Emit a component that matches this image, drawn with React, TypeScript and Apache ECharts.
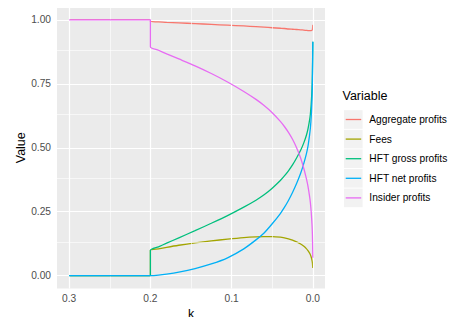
import React, { useEffect, useRef } from "react";
import * as echarts from "echarts";

const kGrid = [0.3, 0.2, 0.2, 0.19, 0.18, 0.165, 0.145, 0.125, 0.105, 0.085, 0.07, 0.06, 0.05, 0.04, 0.035, 0.03, 0.025, 0.02, 0.015, 0.011, 0.008, 0.006, 0.004, 0.003, 0.002, 0.001, 0.0005, 0.0];
const aggregateProfits = [1, 1, 0.993, 0.992, 0.99, 0.988, 0.985, 0.982, 0.979, 0.976, 0.973, 0.971, 0.969, 0.967, 0.966, 0.964, 0.963, 0.962, 0.961, 0.96, 0.959, 0.958, 0.958, 0.958, 0.958, 0.959, 0.962, 0.98];
const fees = [0, 0, 0.099, 0.105, 0.111, 0.119, 0.128, 0.136, 0.143, 0.149, 0.152, 0.153, 0.153, 0.151, 0.148, 0.144, 0.139, 0.132, 0.124, 0.115, 0.106, 0.098, 0.088, 0.082, 0.073, 0.06, 0.05, 0.03];
const hftGross = [0, 0, 0.099, 0.113, 0.127, 0.148, 0.176, 0.205, 0.235, 0.268, 0.295, 0.316, 0.342, 0.372, 0.39, 0.41, 0.433, 0.46, 0.49, 0.52, 0.548, 0.573, 0.608, 0.632, 0.67, 0.73, 0.79, 0.914];
const hftNet = [0, 0, 0, 0.002, 0.006, 0.014, 0.028, 0.046, 0.07, 0.105, 0.14, 0.167, 0.203, 0.243, 0.267, 0.294, 0.325, 0.36, 0.4, 0.44, 0.475, 0.505, 0.55, 0.577, 0.62, 0.69, 0.76, 0.914];
const insiderProfits = [1, 1, 0.895, 0.881, 0.867, 0.847, 0.82, 0.79, 0.757, 0.72, 0.689, 0.665, 0.637, 0.603, 0.583, 0.56, 0.533, 0.5, 0.46, 0.418, 0.38, 0.35, 0.31, 0.285, 0.25, 0.2, 0.16, 0.07];

const seriesNames = ["Aggregate profits", "Fees", "HFT gross profits", "HFT net profits", "Insider profits"];
const seriesValues = [aggregateProfits, fees, hftGross, hftNet, insiderProfits];
const seriesColors = ["#F8766D", "#A3A500", "#00BF7D", "#00B0F6", "#E76BF3"];

const xTicks = [0.3, 0.2, 0.1, 0.0];
const xMinor = [0.25, 0.15, 0.05];
const yTicks = [0, 0.25, 0.5, 0.75, 1.0];
const yMinor = [0.125, 0.375, 0.625, 0.875];

const FONT = "Liberation Sans, Arial, Helvetica, sans-serif";

export default function App() {
  const ref = useRef<HTMLDivElement>(null);
  useEffect(() => {
    if (!ref.current) return;
    const chart = echarts.init(ref.current, null, { renderer: "svg" });

    const gridLines: any[] = [];
    xTicks.forEach((v) => gridLines.push({ xAxis: v, lineStyle: { color: "#FFFFFF", width: 1.2, type: "solid" } }));
    xMinor.forEach((v) => gridLines.push({ xAxis: v, lineStyle: { color: "#FFFFFF", width: 0.6, type: "solid" } }));
    yTicks.forEach((v) => gridLines.push({ yAxis: v, lineStyle: { color: "#FFFFFF", width: 1.2, type: "solid" } }));
    yMinor.forEach((v) => gridLines.push({ yAxis: v, lineStyle: { color: "#FFFFFF", width: 0.6, type: "solid" } }));

    const legendGraphics: any[] = [
      {
        type: "text",
        left: 342.5,
        top: 89,
        style: { text: "Variable", font: `12.5px ${FONT}`, fill: "#000000" },
      },
    ];
    seriesNames.forEach((name, i) => {
      const cy = 119.5 + i * 19.6;
      legendGraphics.push({
        type: "rect",
        shape: { x: 344, y: cy - 9.3, width: 18.6, height: 18.6 },
        style: { fill: "#F2F2F2" },
      });
      legendGraphics.push({
        type: "line",
        shape: { x1: 345.7, y1: cy, x2: 361.2, y2: cy },
        style: { stroke: seriesColors[i], lineWidth: 1.3 },
      });
      legendGraphics.push({
        type: "text",
        x: 369.3,
        y: cy,
        style: { text: name, font: `10.2px ${FONT}`, fill: "#000000", textVerticalAlign: "middle", verticalAlign: "middle" },
      });
    });

    const series: any[] = [
      {
        type: "line",
        name: "grid",
        data: [],
        z: 1,
        silent: true,
        markLine: {
          silent: true,
          symbol: ["none", "none"],
          label: { show: false },
          animation: false,
          data: gridLines,
        },
      },
    ];
    seriesNames.forEach((name, i) => {
      series.push({
        type: "line",
        name,
        data: kGrid.map((k, j) => [k, seriesValues[i][j]]),
        showSymbol: false,
        symbol: "none",
        smooth: 0.25,
        lineStyle: { color: seriesColors[i], width: 1.3 },
        itemStyle: { color: seriesColors[i] },
        z: 3 + i,
      });
    });

    chart.setOption({
      animation: false,
      grid: {
        left: 57,
        right: 133,
        top: 7,
        bottom: 34.5,
        show: true,
        backgroundColor: "#EBEBEB",
        borderWidth: 0,
      },
      xAxis: {
        type: "value",
        inverse: true,
        min: -0.015,
        max: 0.315,
        name: "k",
        nameLocation: "middle",
        nameGap: 18.5,
        nameMoveOverlap: false,
        nameTextStyle: { fontFamily: FONT, fontSize: 12.5, color: "#000000" },
        axisLine: { show: false },
        splitLine: { show: false },
        axisTick: { show: true, length: 3, lineStyle: { color: "#333333", width: 1 }, customValues: xTicks },
        axisLabel: {
          show: true,
          customValues: xTicks,
          margin: 5,
          fontFamily: FONT,
          fontSize: 10.2,
          color: "#4D4D4D",
          formatter: (v: number) => v.toFixed(1),
        },
      },
      yAxis: {
        type: "value",
        min: -0.05,
        max: 1.05,
        name: "Value",
        nameLocation: "middle",
        nameGap: 30,
        nameMoveOverlap: false,
        nameRotate: 90,
        nameTextStyle: { fontFamily: FONT, fontSize: 12.5, color: "#000000" },
        axisLine: { show: false },
        splitLine: { show: false },
        axisTick: { show: true, length: 3, lineStyle: { color: "#333333", width: 1 }, customValues: yTicks },
        axisLabel: {
          show: true,
          customValues: yTicks,
          margin: 6,
          fontFamily: FONT,
          fontSize: 10.2,
          color: "#4D4D4D",
          formatter: (v: number) => v.toFixed(2),
        },
      },
      series,
      graphic: legendGraphics,
    });
    return () => chart.dispose();
  }, []);
  return <div ref={ref} style={{ width: 458, height: 325, margin: -8 }} />;
}
